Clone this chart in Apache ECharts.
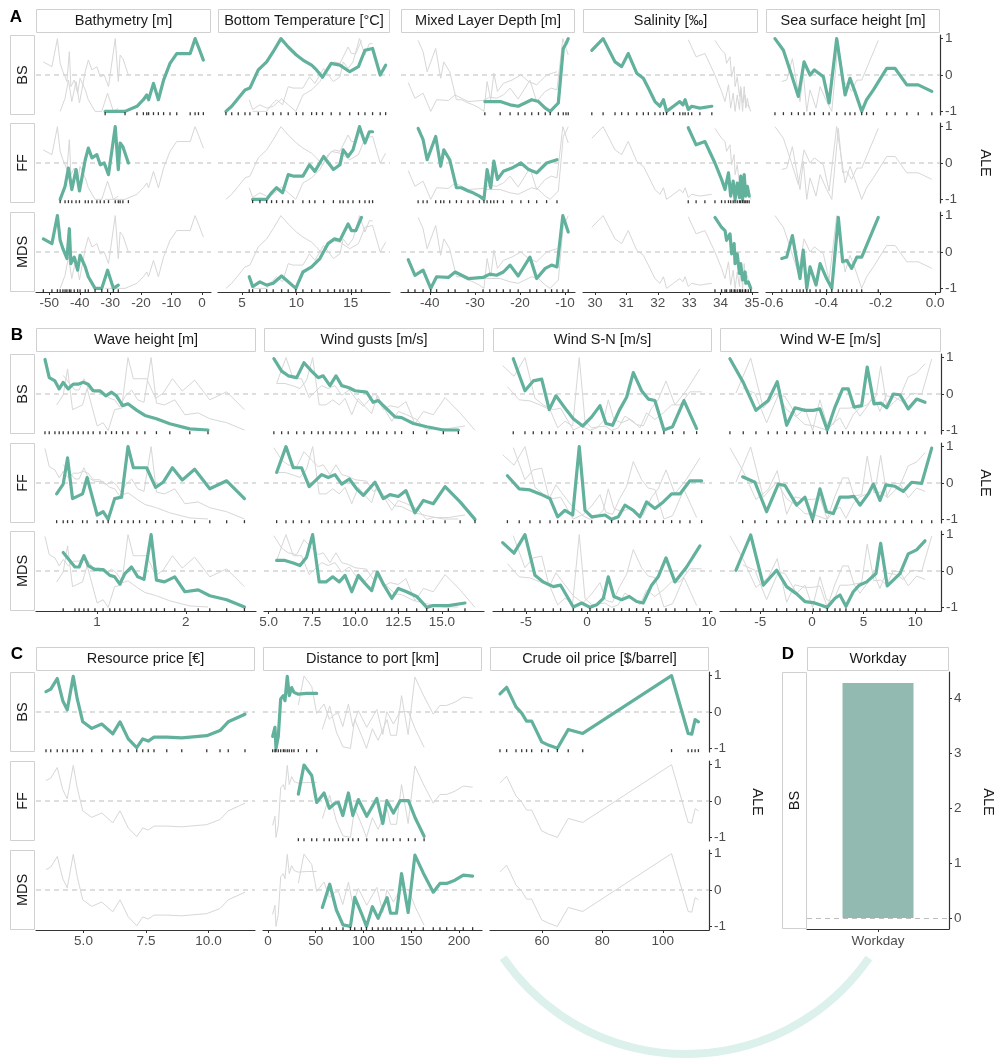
<!DOCTYPE html>
<html>
<head>
<meta charset="utf-8">
<script src="https://cdn.jsdelivr.net/npm/echarts@6/dist/echarts.min.js"></script>
<style>
  html, body { margin: 0; padding: 0; background: #fff; }
  #chart { width: 994px; height: 1059px; }
</style>
</head>
<body>
<div id="chart"></div>
<script>
// ---------- data ----------
var rowNames = ['BS', 'FF', 'MDS'];
var aleTicks = [-1, 0, 1];

// A
var bathyTicks = [-50, -40, -30, -20, -10, 0];
var bathyBS = [[-31.7,-1],[-25.2,-1],[-21.3,-0.86],[-19.2,-0.68],[-18.1,-0.55],[-17.5,-0.68],[-15.9,-0.23],[-14.3,-0.68],[-12.6,-0.14],[-10.5,0.32],[-8.3,0.59],[-3.9,0.59],[-2.3,1],[-1.2,0.77],[0.4,0.41]];
var bathyFF = [[-46.4,-1],[-44.8,-0.64],[-43.7,-0.14],[-42.6,-0.73],[-41.2,-0.18],[-40.1,-0.77],[-38.2,0.09],[-37.2,0.41],[-36.0,0.14],[-34.4,0.23],[-33.3,-0.05],[-32.0,0],[-30.6,-0.32],[-28.4,1],[-27.4,-0.18],[-26.8,0.55],[-25.9,0.45],[-24.1,0]];
var bathyMDS = [[-51.9,0.36],[-49.1,0.23],[-47.3,1],[-46.4,0.32],[-45.5,0.09],[-44.8,-0.05],[-44.2,-0.18],[-43.4,0.64],[-42.9,-0.32],[-41.8,-0.14],[-40.7,-0.5],[-39.9,-0.09],[-38.2,-0.41],[-37.2,-0.68],[-35.0,-1],[-32.8,-1],[-30.9,-0.5],[-29.0,-1],[-27.4,-0.91]];

var tempTicks = [5, 10, 15];
var tempBS = [[3.53,-1],[4.06,-0.86],[4.66,-0.64],[5.28,-0.41],[5.73,-0.36],[6.5,0.14],[7.27,0.36],[7.87,0.64],[8.58,1],[9.25,0.77],[10.0,0.55],[10.6,0.41],[11.4,0.27],[11.85,0.14],[12.4,-0.06],[13.2,0.32],[14.0,0.27],[14.9,0.09],[15.7,0.23],[16.3,0.68],[17.0,0.73],[17.7,0],[18.2,0.27]];
var tempFF = [[5.98,-1],[6.65,-1],[7.27,-1],[7.72,-0.82],[8.18,-0.68],[8.73,-0.82],[9.25,-0.32],[9.7,-0.36],[10.6,-0.36],[11.2,-0.05],[11.7,-0.23],[12.5,0.18],[13.4,-0.18],[14.0,-0.05],[14.3,0.36],[14.75,0.18],[15.2,0.36],[15.8,1],[16.3,0.55],[16.7,0.86],[17.0,0.86]];
var tempMDS = [[5.67,-0.68],[5.98,-0.95],[6.65,-0.82],[7.27,-0.91],[7.87,-0.86],[8.64,-0.66],[9.25,-0.82],[9.95,-1],[10.6,-0.55],[11.4,-0.41],[12.16,-0.18],[12.9,0.23],[13.5,0.36],[14.0,0.32],[14.3,0.5],[14.75,0.77],[15.06,0.59],[15.46,0.59],[15.98,0.95]];

var mldTicks = [-40, -30, -20, -10];
var mldBS = [[-27.8,-0.73],[-24.4,-0.73],[-22.2,-0.82],[-20.4,-0.86],[-18.9,-0.77],[-17.4,-0.68],[-15.9,-0.73],[-14.4,-0.91],[-13.3,-1],[-11.5,-0.77],[-10.4,0.73],[-9.8,0.86],[-9.3,1]];
var mldFF = [[-42.6,0.95],[-41.5,0.64],[-40.6,0.09],[-38.7,0.73],[-37.6,-0.09],[-36.9,0.36],[-35.6,0.09],[-34.1,-0.68],[-33.0,-0.68],[-31.5,-0.77],[-30.4,-0.82],[-29.0,-0.91],[-28.0,-1],[-27.3,-0.18],[-26.5,-0.68],[-25.8,0.05],[-25.0,-0.45],[-23.7,-0.23],[-21.8,-0.14],[-19.8,0],[-18.1,-0.18],[-16.3,-0.27],[-14.1,0],[-11.8,0.09]];
var mldMDS = [[-44.8,-0.21],[-43.3,-0.64],[-41.5,-0.5],[-39.8,-1],[-38.5,-0.68],[-35.9,-0.7],[-34.4,-0.55],[-31.5,-0.73],[-28.2,-0.7],[-26.7,-0.61],[-25.2,-0.64],[-23.7,-0.55],[-22.2,-0.36],[-20.4,-0.66],[-17.8,-0.14],[-16.3,-0.73],[-14.4,-0.45],[-13.0,-0.36],[-11.8,-0.41],[-10.5,1],[-9.3,0.55]];

var salTicks = [30, 31, 32, 33, 34, 35];
var salBS = [[29.9,0.68],[30.26,1],[30.64,0.36],[30.85,0.23],[31.06,0.59],[31.33,0.05],[31.54,-0.09],[31.7,-0.36],[31.91,-0.73],[32.07,-0.86],[32.18,-0.68],[32.28,-1],[32.5,-0.86],[32.7,-0.73],[32.8,-0.82],[32.87,-0.68],[32.97,-0.95],[33.08,-0.86],[33.34,-0.91],[33.72,-0.86]];
var salFF = [[32.97,0.97],[33.22,0.5],[33.5,0.59],[33.82,0],[34.03,-0.45],[34.14,-0.73],[34.25,-0.27],[34.32,-0.91],[34.4,-0.5],[34.46,-1],[34.53,-0.55],[34.6,-0.95],[34.64,-0.36],[34.7,-1],[34.75,-0.32],[34.8,-0.91],[34.85,-0.64],[34.91,-0.91]];
var salMDS = [[33.82,0.95],[34.03,0.68],[34.14,0.59],[34.19,0.32],[34.3,0.5],[34.35,-0.05],[34.43,0.23],[34.46,-0.32],[34.53,-0.05],[34.6,-0.59],[34.64,-0.32],[34.7,-0.77],[34.78,-0.55],[34.8,-0.86],[34.88,-0.82],[34.96,-1]];

var sshTicks = [-0.6, -0.4, -0.2, 0];
var sshBS = [[-0.589,1],[-0.558,0.68],[-0.528,0],[-0.503,-0.59],[-0.482,0.36],[-0.46,0],[-0.444,0.14],[-0.411,-0.05],[-0.39,-0.77],[-0.362,1],[-0.331,-0.55],[-0.313,-0.09],[-0.295,-0.45],[-0.27,-1],[-0.252,-0.68],[-0.227,-0.41],[-0.178,0.18],[-0.147,0.18],[-0.104,-0.27],[-0.062,-0.27],[-0.012,-0.45]];
var sshFF = [];
var sshMDS = [[-0.564,-0.18],[-0.546,-0.14],[-0.525,0.45],[-0.509,-0.23],[-0.497,-0.73],[-0.485,0.05],[-0.472,-1],[-0.46,-0.41],[-0.438,-0.91],[-0.423,-0.32],[-0.399,-0.73],[-0.38,-1],[-0.356,0.95],[-0.34,-0.27],[-0.325,-0.23],[-0.307,-0.45],[-0.288,-0.14],[-0.27,-0.14],[-0.209,0.95]];

// B
var waveTicks = [1, 2];
var waveBS = [[0.416,0.95],[0.464,0.45],[0.528,0.36],[0.576,0.14],[0.621,0.32],[0.678,0.14],[0.734,0.27],[0.79,0.27],[0.846,0.32],[0.902,0.27],[0.958,0.09],[1.034,0.09],[1.1,-0.05],[1.165,0.05],[1.22,-0.05],[1.29,-0.32],[1.35,-0.27],[1.45,-0.45],[1.54,-0.59],[1.67,-0.68],[1.82,-0.82],[2.045,-0.96],[2.25,-0.99]];
var waveFF = [[0.547,-0.3],[0.621,-0.03],[0.67,0.69],[0.726,-0.43],[0.839,-0.3],[0.89,0.15],[1.003,-0.88],[1.07,-0.79],[1.127,-1],[1.2,-0.43],[1.278,-0.39],[1.35,1],[1.41,0.42],[1.48,0.42],[1.56,0.42],[1.66,-0.12],[1.745,0.02],[1.85,0.42],[1.96,0.08],[2.1,0.38],[2.27,-0.16],[2.46,0.06],[2.66,-0.43]];
var waveMDS = [[0.621,0.51],[0.753,0.11],[0.8,0.11],[0.854,0.42],[0.902,0.15],[0.978,0.04],[1.07,0.04],[1.146,-0.12],[1.2,-0.16],[1.258,-0.36],[1.315,-0.07],[1.39,0.11],[1.46,-0.16],[1.53,-0.23],[1.61,1],[1.67,-0.25],[1.76,-0.3],[1.876,-0.16],[1.99,-0.57],[2.14,-0.52],[2.27,-0.68],[2.46,-0.79],[2.66,-0.99]];

var gustTicks = [5, 7.5, 10, 12.5, 15];
var gustBS = [[5.3,0.97],[5.75,0.63],[6.13,0.5],[6.62,0.45],[7.04,0.86],[7.48,0.63],[7.86,0.45],[8.15,0.5],[8.54,0.23],[8.89,0.5],[9.22,0.23],[9.6,0.18],[9.99,0.09],[10.66,0.05],[11.04,-0.23],[11.33,-0.18],[11.82,-0.41],[12.3,-0.63],[12.68,-0.65],[13.36,-0.81],[14.13,-0.9],[15.09,-0.99],[15.96,-0.99]];
var gustFF = [[5.46,0.29],[6.0,1],[6.42,0.42],[6.9,0.42],[7.34,-0.1],[8.06,0.23],[8.44,0.15],[8.83,0.23],[9.22,-0.03],[9.66,0.11],[10.08,-0.16],[10.47,-0.34],[11.14,0.02],[11.62,-0.43],[12.01,-0.32],[12.49,-0.37],[12.93,-0.21],[13.45,-0.82],[13.94,-0.48],[14.51,-0.57],[15.19,-0.1],[16.06,-0.52],[16.92,-1]];
var gustMDS = [[5.46,0.29],[5.94,0.29],[6.42,0.22],[6.81,0.15],[7.19,0.38],[7.54,1],[7.92,-0.3],[8.31,-0.3],[8.7,-0.16],[9.08,-0.3],[9.41,-0.12],[9.8,-0.57],[10.18,-0.12],[10.56,-0.34],[10.95,-0.54],[11.28,-0.03],[11.66,-0.39],[12.11,-0.75],[12.49,-0.48],[12.97,-0.57],[13.55,-0.7],[14.13,-1],[14.51,-0.95],[15.38,-0.95],[16.34,-0.88]];

var snTicks = [-5, 0, 5, 10];
var snBS = [[-6.04,0.97],[-5.08,0.09],[-4.4,0.36],[-3.71,0.41],[-3.09,-0.43],[-2.54,-0.05],[-1.66,-0.45],[-1.12,-0.68],[-0.35,-0.88],[0.39,-0.63],[1.07,-0.32],[1.56,-0.81],[2.1,-0.86],[2.65,-0.45],[3.25,-0.09],[3.8,0.59],[4.48,0.09],[5.03,-0.14],[5.57,-0.18],[6.31,-0.99],[7.02,-0.9],[7.95,-0.18],[8.99,-0.95]];
var snFF = [[-6.52,0.2],[-5.55,-0.16],[-4.67,-0.19],[-3.85,-0.3],[-3.03,-0.43],[-2.4,-0.93],[-1.8,-0.75],[-1.17,-0.88],[-0.63,1],[-0.16,-0.75],[0.39,-0.93],[1.48,-0.88],[2.02,-1],[2.57,-0.93],[3.11,-0.61],[3.8,-0.75],[4.34,-0.93],[4.89,-0.52],[5.57,-0.7],[6.26,-0.52],[6.94,-0.3],[7.62,-0.3],[8.44,0.06],[9.4,0.06]];
var snMDS = [[-6.91,0.78],[-5.98,0.49],[-5.08,1],[-4.26,-0.12],[-3.58,-0.3],[-2.76,-0.43],[-2.16,-0.39],[-1.12,-0.99],[-0.43,-0.88],[0.25,-1],[0.8,-0.93],[1.34,-0.75],[1.75,-0.16],[2.21,-0.7],[2.84,-0.79],[3.47,-0.7],[4.07,-0.84],[4.61,-0.88],[5.3,-0.39],[5.84,-0.16],[6.48,0.36],[7.21,-0.3],[8.17,0.11],[9.26,0.69]];

var weTicks = [-5, 0, 5, 10];
var weBS = [[-7.94,0.97],[-6.65,0.32],[-5.42,-0.45],[-4.23,-0.18],[-3.36,0.34],[-2.45,-0.86],[-1.65,-0.38],[-0.68,-0.45],[0.13,-0.45],[0.77,-0.41],[1.48,-0.99],[2.23,-0.36],[2.97,0.14],[3.52,0.14],[4.07,-0.36],[4.81,-0.32],[5.35,0.74],[6.0,-0.27],[6.65,-0.25],[7.23,-0.38],[7.87,0],[8.52,-0.02],[9.32,-0.41],[10.13,-0.14],[10.94,-0.23]];
var weFF = [[-6.71,0.17],[-5.52,0.02],[-4.39,-0.79],[-3.26,-0.03],[-2.61,-0.07],[-1.48,-0.61],[-0.68,-0.39],[0.06,-1],[0.77,-0.16],[1.42,-0.79],[2.06,-0.84],[2.71,-0.39],[3.52,-0.39],[4.07,-0.37],[4.65,-0.61],[5.45,-0.3],[5.94,-0.03],[6.58,-0.48],[7.16,-0.05],[8.03,-0.09],[8.84,-0.23],[9.65,0.02],[10.62,-0.01],[11.59,0.96]];
var weMDS = [[-7.36,0.02],[-5.93,0.99],[-4.71,-0.39],[-3.42,0.02],[-2.45,-0.43],[-1.48,-0.63],[-0.68,-0.84],[0.13,-0.87],[0.77,-0.93],[1.48,-1],[2.23,-0.75],[2.71,-0.66],[3.29,-0.97],[4.0,-0.57],[4.58,-0.39],[5.3,-0.3],[6.2,-0.07],[6.65,0.76],[7.29,-0.41],[7.87,-0.25],[8.52,-0.07],[9.32,0.47],[10.13,0.58],[10.94,0.83]];

// C
var priceTicks = [5, 7.5, 10];
var priceBS = [[3.5,0.56],[3.69,0.63],[3.95,0.92],[4.17,0.31],[4.35,0.06],[4.59,0.98],[4.75,0.36],[4.97,-0.27],[5.33,-0.45],[5.73,-0.33],[6.17,-0.6],[6.46,-0.27],[6.79,-0.74],[7.13,-0.98],[7.37,-0.74],[7.59,-0.8],[7.82,-0.69],[8.33,-0.69],[8.93,-0.71],[9.93,-0.65],[10.46,-0.51],[10.79,-0.27],[11.46,-0.06]];
var priceFF = [];
var priceMDS = [];

var portTicks = [0, 50, 100, 150, 200];
var portBS = [[4.9,-0.67],[7.3,-0.42],[8.4,-1],[10.8,-0.67],[13.3,0.36],[16.1,0.45],[17.8,0.31],[20.2,0.98],[22.3,0.45],[24.8,0.67],[27.2,0.54],[31.8,0.49],[40.5,0.51],[51,0.51]];
var portFF = [[31.8,0.19],[37.7,0.99],[45.8,0.7],[51,-0.04],[58.7,0.22],[64.2,-0.2],[70.2,-0.06],[73.7,-0.04],[78.3,-0.4],[84.2,0.22],[88.8,-0.4],[94.6,0.04],[103.4,-0.42],[113.9,0.07],[120.2,-0.62],[124.4,0.01],[131.3,-0.33],[138.3,0.01],[147,0.01],[154,-0.46],[163.4,-0.97]];
var portMDS = [[56.9,-0.48],[64.6,0.16],[71.6,-0.55],[78.5,-0.96],[86.3,-1],[90.8,-0.2],[97.8,-0.64],[103.1,-1],[109.3,-0.46],[115.3,-0.78],[120.5,-0.46],[124.7,-0.21],[128.3,-0.64],[134.5,-0.64],[139.8,0.45],[146.7,-0.62],[153.8,0.96],[162.5,0.47],[173,-0.06],[180,0.18],[187,0.18],[195.7,0.27],[204.4,0.41],[214.2,0.38]];

var oilTicks = [60, 80, 100];
var oilBS = [[46.1,0.5],[48.3,0.68],[51.4,0.14],[53.3,-0.03],[54.9,-0.25],[56.6,-0.25],[59.9,-0.82],[62.1,-0.91],[65.1,-1],[68.7,-0.48],[73.5,-0.59],[102.9,1],[108.4,-0.59],[109.6,-0.61],[110.7,-0.21],[111.8,-0.27]];
var oilFF = [];
var oilMDS = [];

// D
var workdayCats = ['Workday'];
var workdayValues = [4.27];
var workdayTicks = [0, 1, 2, 3, 4];

// ---------- styles ----------
var GREEN = '#62b19d', GREY = '#d7d7d7', DASH = '#bdbdbd', AXIS = '#333333';
var TICKTXT = '#4d4d4d', STRIPTXT = '#1a1a1a', STRIPLINE = '#d0d0d0';
var FONT = 'Liberation Sans';
var STRIP_FS = 14.5, TICK_FS = 13.5;

var option = {
  animation: false,
  backgroundColor: '#ffffff',
  textStyle: { fontFamily: FONT },
  grid: [], xAxis: [], yAxis: [], series: [], graphic: []
};

function stripBox(x, y, w, h, text, rot) {
  option.graphic.push({
    type: 'rect', silent: true,
    shape: { x: x + 0.5, y: y + 0.5, width: w - 1, height: h - 1 },
    style: { fill: '#ffffff', stroke: STRIPLINE, lineWidth: 1 }
  });
  option.graphic.push({
    type: 'text', silent: true, x: x + w / 2, y: y + h / 2, rotation: rot || 0,
    style: { text: text, fill: STRIPTXT, fontSize: STRIP_FS, fontFamily: FONT,
             align: 'center', verticalAlign: 'middle', textAlign: 'center', textVerticalAlign: 'middle' }
  });
}

function plainText(x, y, text, size, bold, rot) {
  option.graphic.push({
    type: 'text', silent: true, x: x, y: y, rotation: rot || 0,
    style: { text: text, fill: bold ? '#000' : STRIPTXT, fontSize: size, fontWeight: bold ? 'bold' : 'normal',
             fontFamily: FONT, align: 'center', verticalAlign: 'middle', textAlign: 'center', textVerticalAlign: 'middle' }
  });
}

function addSection(sec) {
  plainText(sec.letterX, sec.letterY, sec.letter, 17, true);
  plainText(sec.aleX, sec.aleY, 'ALE', STRIP_FS, false, -Math.PI / 2);
  var nRows = sec.rowTops.length;
  sec.cols.forEach(function (col, ci) {
    stripBox(col.left, sec.headTop, col.width, 24, col.title, 0);
    var lastCol = ci === sec.cols.length - 1;
    sec.rowTops.forEach(function (top, ri) {
      if (ci === 0) stripBox(10, top, 25, sec.rowH, rowNames[ri], Math.PI / 2);
      var g = option.grid.length;
      var bottom = ri === nRows - 1;
      option.grid.push({ left: col.left, top: top, width: col.width, height: sec.rowH });
      option.xAxis.push({
        gridIndex: g, type: 'value', min: col.min, max: col.max, show: bottom,
        splitLine: { show: false },
        axisLine: { show: true, onZero: false, lineStyle: { color: AXIS, width: 1.2 } },
        axisTick: { show: true, customValues: col.ticks, length: 3, lineStyle: { color: AXIS } },
        axisLabel: { customValues: col.ticks, color: TICKTXT, fontSize: TICK_FS, margin: 4,
                     formatter: (function (d) { return function (v) { return v.toFixed(d); }; })(col.dec) }
      });
      option.yAxis.push({
        gridIndex: g, type: 'value', min: -1.1, max: 1.1, position: 'right', show: lastCol,
        splitLine: { show: false },
        axisLine: { show: true, onZero: false, lineStyle: { color: AXIS, width: 1.2 } },
        axisTick: { show: true, customValues: aleTicks, length: 3, lineStyle: { color: AXIS } },
        axisLabel: { customValues: aleTicks, color: TICKTXT, fontSize: TICK_FS, margin: 5 }
      });
      // zero reference
      option.series.push({
        type: 'line', xAxisIndex: g, yAxisIndex: g, silent: true, showSymbol: false, z: 1,
        data: [[col.min, 0], [col.max, 0]],
        lineStyle: { color: DASH, width: 1, type: [5, 4] }
      });
      // other rows in grey
      col.rows.forEach(function (d, k) {
        if (k === ri || !d.length) return;
        option.series.push({
          type: 'line', xAxisIndex: g, yAxisIndex: g, silent: true, showSymbol: false, z: 2,
          data: d, lineStyle: { color: GREY, width: 1 }
        });
      });
      var own = col.rows[ri];
      if (own.length) {
        option.series.push({
          type: 'line', xAxisIndex: g, yAxisIndex: g, silent: true, showSymbol: false, z: 3,
          data: own, lineStyle: { color: GREEN, width: 3.2, join: 'round', cap: 'round' }
        });
        option.series.push({
          type: 'scatter', xAxisIndex: g, yAxisIndex: g, silent: true, z: 4,
          symbol: 'rect', symbolSize: [1.3, 3],
          data: own.map(function (p) { return [p[0], -1.063]; }),
          itemStyle: { color: '#000' }
        });
      }
    });
  });
}

addSection({
  letter: 'A', letterX: 16, letterY: 17, aleX: 985, aleY: 163,
  headTop: 9, rowTops: [35, 123, 212], rowH: 80,
  cols: [
    { title: 'Bathymetry [m]', left: 36, width: 175, min: -54.3, max: 2.9, ticks: bathyTicks, dec: 0, rows: [bathyBS, bathyFF, bathyMDS] },
    { title: 'Bottom Temperature [°C]', left: 218, width: 172, min: 2.8, max: 18.6, ticks: tempTicks, dec: 0, rows: [tempBS, tempFF, tempMDS] },
    { title: 'Mixed Layer Depth [m]', left: 401, width: 174, min: -46.4, max: -7.8, ticks: mldTicks, dec: 0, rows: [mldBS, mldFF, mldMDS] },
    { title: 'Salinity [‰]', left: 583, width: 175, min: 29.62, max: 35.19, ticks: salTicks, dec: 0, rows: [salBS, salFF, salMDS] },
    { title: 'Sea surface height [m]', left: 766, width: 174, min: -0.622, max: 0.018, ticks: sshTicks, dec: 1, rows: [sshBS, sshFF, sshMDS] }
  ]
});

addSection({
  letter: 'B', letterX: 17, letterY: 335, aleX: 985, aleY: 483,
  headTop: 328, rowTops: [354, 443, 531], rowH: 80,
  cols: [
    { title: 'Wave height [m]', left: 36, width: 220, min: 0.315, max: 2.79, ticks: waveTicks, dec: 0, rows: [waveBS, waveFF, waveMDS] },
    { title: 'Wind gusts [m/s]', left: 264, width: 220, min: 4.73, max: 17.44, ticks: gustTicks, dec: 1, rows: [gustBS, gustFF, gustMDS] },
    { title: 'Wind S-N [m/s]', left: 493, width: 219, min: -7.7, max: 10.25, ticks: snTicks, dec: 0, rows: [snBS, snFF, snMDS] },
    { title: 'Wind W-E [m/s]', left: 720, width: 221, min: -8.9, max: 12.49, ticks: weTicks, dec: 0, rows: [weBS, weFF, weMDS] }
  ]
});

addSection({
  letter: 'C', letterX: 17, letterY: 654, aleX: 757, aleY: 802,
  headTop: 647, rowTops: [672, 761, 850], rowH: 80,
  cols: [
    { title: 'Resource price [€]', left: 36, width: 219, min: 3.1, max: 11.86, ticks: priceTicks, dec: 1, rows: [priceBS, priceFF, priceMDS] },
    { title: 'Distance to port [km]', left: 263, width: 219, min: -5.2, max: 224, ticks: portTicks, dec: 0, rows: [portBS, portFF, portMDS] },
    { title: 'Crude oil price [$/barrel]', left: 490, width: 219, min: 42.8, max: 115.3, ticks: oilTicks, dec: 0, rows: [oilBS, oilFF, oilMDS] }
  ]
});

// D: single bar panel
plainText(788, 654, 'D', 17, true);
plainText(988, 802, 'ALE', STRIP_FS, false, -Math.PI / 2);
stripBox(807, 647, 142, 24, 'Workday', 0);
stripBox(782, 672, 25, 257, 'BS', Math.PI / 2);
var gD = option.grid.length;
option.grid.push({ left: 807, top: 672, width: 142, height: 257 });
option.xAxis.push({
  gridIndex: gD, type: 'category', data: workdayCats,
  axisLine: { show: true, onZero: false, lineStyle: { color: AXIS, width: 1.2 } },
  axisTick: { show: true, alignWithLabel: true, length: 3, lineStyle: { color: AXIS } },
  axisLabel: { color: TICKTXT, fontSize: TICK_FS, margin: 5 }
});
option.yAxis.push({
  gridIndex: gD, type: 'value', position: 'right', min: -0.2, max: 4.47,
  splitLine: { show: false },
  axisLine: { show: true, onZero: false, lineStyle: { color: AXIS, width: 1.2 } },
  axisTick: { show: true, customValues: workdayTicks, length: 3, lineStyle: { color: AXIS } },
  axisLabel: { customValues: workdayTicks, color: TICKTXT, fontSize: TICK_FS, margin: 5 }
});
option.series.push({
  type: 'bar', xAxisIndex: gD, yAxisIndex: gD, data: workdayValues, barWidth: '50%', z: 3,
  itemStyle: { color: '#93bab0' },
  markLine: {
    silent: true, symbol: ['none', 'none'], label: { show: false },
    lineStyle: { type: [5, 4], color: DASH, width: 1 },
    data: [{ yAxis: 0 }]
  }
});

// faint ring below the panels
option.graphic.push({
  type: 'arc', silent: true, z: -1,
  shape: { cx: 686, cy: 832, r: 222, startAngle: 0.603, endAngle: 2.539, clockwise: true },
  style: { stroke: '#dcf1ec', lineWidth: 8, fill: 'none' }
});

var chart = echarts.init(document.getElementById('chart'));
chart.setOption(option);
</script>
</body>
</html>
